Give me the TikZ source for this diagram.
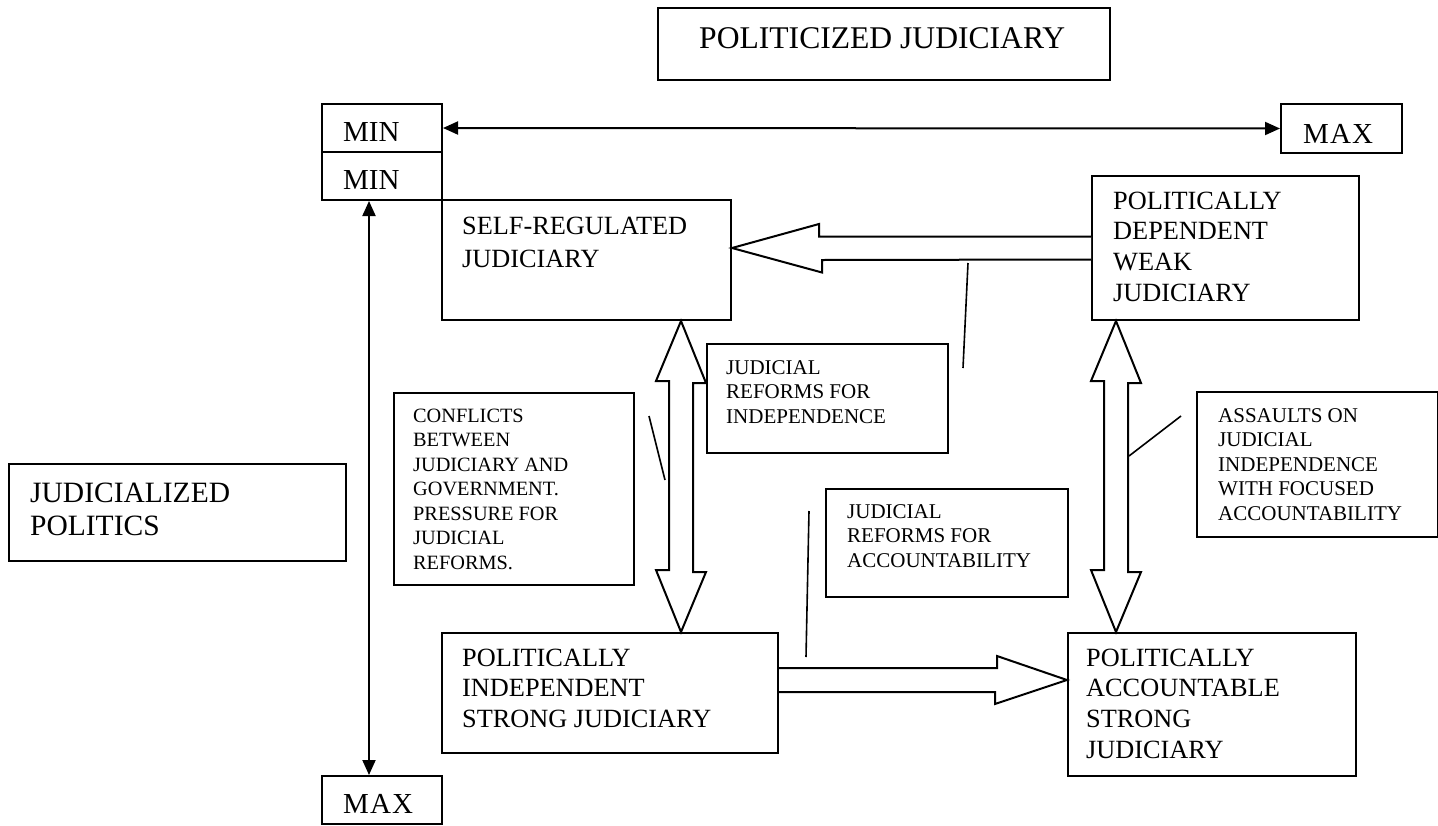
\documentclass[tikz,border=0pt]{standalone}
\usepackage{fontspec}
\setmainfont{Liberation Serif}
\usetikzlibrary{arrows.meta,calc}
\newcommand\fmain{\fontsize{26.3pt}{30.7pt}\selectfont}
\newcommand\fselfreg{\fontsize{26.3pt}{33.5pt}\selectfont}
\newcommand\fsmall{\fontsize{21pt}{24.5pt}\selectfont}
\newcommand\fconf{\fontsize{20.3pt}{24.5pt}\selectfont}
\newcommand\fmm{\fontsize{29pt}{34pt}\selectfont}
\newcommand\fmx{\fontsize{29pt}{34pt}\selectfont\addfontfeature{LetterSpace=4}}
\newcommand\ftitle{\fontsize{31.6pt}{36pt}\selectfont}
\newcommand\fjud{\fontsize{29.5pt}{33pt}\selectfont}
\begin{document}
\begin{tikzpicture}[x=1pt,y=-1pt,
  box/.style={draw, line width=2pt, inner sep=0pt, anchor=north west},
  txt/.style={inner sep=0pt, anchor=north west, align=left},
  blk/.style={draw, line width=2pt, fill=white, line join=miter},
  callout/.style={draw, line width=1.6pt},
  thinar/.style={line width=2pt, {Triangle[length=15pt,width=13pt]}-{Triangle[length=15pt,width=13pt]}}]
\useasboundingbox (0,0) rectangle (1438,825);

% title
\node[box, minimum width=452pt, minimum height=72pt] (title) at (657,7) {};
\node[txt, font=\ftitle] (titleT) at (699,27) {POLITICIZED JUDICIARY};

% MIN / MAX
\node[box, minimum width=120pt, minimum height=48pt] (min1) at (321,103) {};
\node[txt, font=\fmm] (min1T) at (343,122.8) {MIN};
\node[box, minimum width=120pt, minimum height=48pt] (min2) at (321,151) {};
\node[txt, font=\fmm] (min2T) at (343,170.8) {MIN};
\node[box, minimum width=121pt, minimum height=49pt] (maxr) at (1280,103) {};
\node[txt, font=\fmx] (maxrT) at (1303,124) {MAX};
\node[box, minimum width=120pt, minimum height=48pt] (maxb) at (321,775) {};
\node[txt, font=\fmx] (maxbT) at (343,794) {MAX};

% main boxes
\node[box, minimum width=289pt, minimum height=120pt] (selfreg) at (441,199) {};
\node[txt, font=\fselfreg] (selfregT) at (462,216.4) {SELF-REGULATED\\JUDICIARY};
\node[box, minimum width=267pt, minimum height=144pt] (dep) at (1091,175) {};
\node[txt, font=\fmain] (depT) at (1113,191.4) {POLITICALLY\\DEPENDENT\\WEAK\\JUDICIARY};
\node[box, minimum width=336pt, minimum height=120pt] (indep) at (441,632) {};
\node[txt, font=\fmain] (indepT) at (462,648.4) {POLITICALLY\\INDEPENDENT\\STRONG JUDICIARY};
\node[box, minimum width=288pt, minimum height=143pt] (acc) at (1067,632) {};
\node[txt, font=\fmain] (accT) at (1086,648.4) {POLITICALLY\\ACCOUNTABLE\\STRONG\\JUDICIARY};
\node[box, minimum width=337pt, minimum height=97pt] (jp) at (8,463) {};
\node[txt, font=\fjud] (jpT) at (30,482.4) {JUDICIALIZED\\POLITICS};

% label boxes
\node[box, minimum width=240pt, minimum height=192pt] (conf) at (393,392) {};
\node[txt, font=\fconf] (confT) at (413,408.7) {CONFLICTS\\BETWEEN\\JUDICIARY AND\\GOVERNMENT.\\PRESSURE FOR\\JUDICIAL\\REFORMS.};
\node[box, minimum width=241pt, minimum height=109pt] (jrfi) at (706,343) {};
\node[txt, font=\fsmall] (jrfiT) at (726,360) {JUDICIAL\\REFORMS FOR\\INDEPENDENCE};
\node[box, minimum width=242pt, minimum height=108pt] (jrfa) at (825,488) {};
\node[txt, font=\fsmall] (jrfaT) at (847,504) {JUDICIAL\\REFORMS FOR\\ACCOUNTABILITY};
\node[box, minimum width=241pt, minimum height=145pt] (asl) at (1196,391) {};
\node[txt, font=\fsmall] (aslT) at (1218,408) {ASSAULTS ON\\JUDICIAL\\INDEPENDENCE\\WITH FOCUSED\\ACCOUNTABILITY};

% thin double arrows
\draw[thinar] (min1.east) -- (maxr.west);
\coordinate (va) at ($(min2.south west)+(48,0)$);
\draw[thinar] (va) -- (va |- maxb.north);

% block arrow: dependent -> self-regulated
\draw[blk] ($(dep.west)+(0,-11.5)$) -- ++(-272,0) -- ++(0,-12.5) -- (selfreg.east |- dep.west)
  -- ++(90,24.5) -- ++(0,-12.5) -- ($(dep.west)+(0,11.5)$);

% block arrow: independent -> accountable
\coordinate (rb) at ($(indep.north east)+(0,48)$);
\draw[blk] ($(rb)+(0,-12)$) -- ++(218,0) -- ++(0,-12) -- (acc.west |- rb)
  -- ++(-72,24) -- ++(0,-12) -- ($(rb)+(0,12)$);

% double vertical block arrow: self-regulated <-> independent
\coordinate (lv) at ($(selfreg.south west)+(240,0)$);
\draw[blk] (lv) -- ++(25,62) -- ++(-13,0) -- ++(0,189) -- ++(13,0) -- (lv |- indep.north)
  -- ++(-25,-62) -- ++(13,0) -- ++(0,-189) -- ++(-13,0) -- cycle;

% double vertical block arrow: dependent <-> accountable
\coordinate (rv) at ($(dep.south west)+(25,0)$);
\draw[blk] (rv) -- ++(25,62) -- ++(-13,0) -- ++(0,189) -- ++(13,0) -- (rv |- acc.north)
  -- ++(-25,-62) -- ++(13,0) -- ++(0,-189) -- ++(-13,0) -- cycle;

% callout lines
\coordinate (k1a) at (963,368); \coordinate (k1b) at (968,263);
\coordinate (k2a) at (649,416); \coordinate (k2b) at (665,480);
\coordinate (k3a) at (809,511); \coordinate (k3b) at (806,657);
\coordinate (k4a) at (1129,456); \coordinate (k4b) at (1181,416);
\draw[callout] (k1a) -- (k1b);
\draw[callout] (k2a) -- (k2b);
\draw[callout] (k3a) -- (k3b);
\draw[callout] (k4a) -- (k4b);
\end{tikzpicture}
\end{document}
